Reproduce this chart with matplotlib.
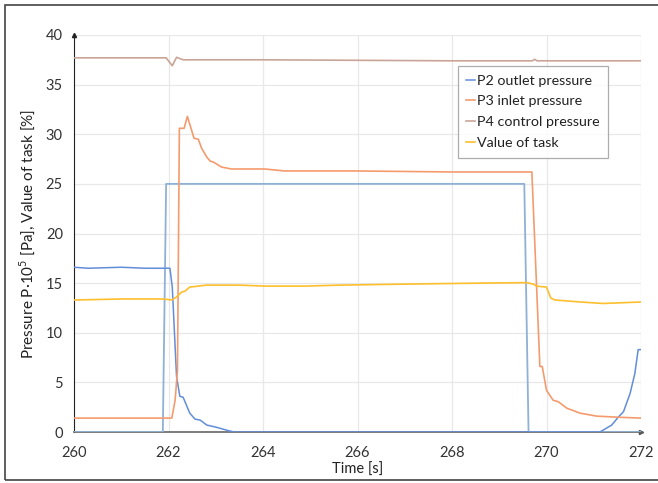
import matplotlib.pyplot as plt
from matplotlib.patches import Rectangle

# time series
p2_t = [260, 260.3, 261, 261.5, 261.95, 262.03, 262.08, 262.17, 262.24, 262.31, 262.45, 262.56,
        262.67, 262.81, 263.02, 263.27, 263.4, 271.13, 271.38, 271.52, 271.63, 271.77, 271.87,
        271.94, 272]
p2_v = [16.6, 16.5, 16.6, 16.5, 16.5, 16.5, 14.6, 5.6, 3.6, 3.5, 1.9, 1.3,
        1.2, 0.7, 0.47, 0.13, 0, 0, 0.7, 1.5, 2.05, 3.9, 5.9,
        8.3, 8.3]

step_t = [260, 261.88, 261.95, 269.53, 269.62, 272]
step_v = [0, 0, 25, 25, 0, 0]

p3_t = [260, 261, 262.07, 262.14, 262.19, 262.23, 262.33, 262.4, 262.54, 262.63, 262.7, 262.81,
        262.88, 262.95, 263.12, 263.33, 264.04, 264.46, 266, 268, 269.69, 269.86, 269.91,
        270.0, 270.14, 270.25, 270.43, 270.71, 271.06, 271.56, 272]
p3_v = [1.4, 1.4, 1.4, 3.2, 6.2, 30.6, 30.6, 31.8, 29.6, 29.5, 28.6, 27.7,
        27.3, 27.2, 26.7, 26.5, 26.5, 26.3, 26.3, 26.2, 26.2, 6.6, 6.6,
        4.2, 3.2, 3.05, 2.4, 1.9, 1.6, 1.48, 1.4]

p4_t = [260, 261.95, 262.08, 262.17, 262.31, 264, 266, 268, 269.7, 269.75, 269.8, 272]
p4_v = [37.7, 37.7, 36.9, 37.75, 37.5, 37.5, 37.45, 37.4, 37.4, 37.55, 37.4, 37.4]

task_t = [260, 261, 261.9, 262.07, 262.17, 262.28, 262.35, 262.45, 262.81, 263.5, 264.04, 264.9,
          265.63, 267, 268.59, 269.58, 269.72, 269.79, 270.0, 270.09, 270.18, 270.71, 271.2, 272]
task_v = [13.3, 13.4, 13.4, 13.3, 13.6, 14.1, 14.2, 14.6, 14.8, 14.8, 14.7, 14.7,
          14.8, 14.9, 15.0, 15.05, 14.9, 14.7, 14.6, 13.5, 13.3, 13.1, 12.95, 13.1]

plt.rcParams['font.family'] = ['Lato', 'DejaVu Sans']
plt.rcParams['mathtext.fontset'] = 'custom'
plt.rcParams['mathtext.rm'] = 'Lato'

fig = plt.figure(figsize=(6.58, 4.83), dpi=100)
ax = fig.add_axes([74 / 658, 51 / 483, 567 / 658, 397 / 483])

# outer frame of the figure
fig.patches.append(Rectangle((5 / 658, 3 / 483), 1.2, 475 / 483, transform=fig.transFigure,
                             fill=False, edgecolor='#444444', lw=1.2, zorder=0))

ax.plot(step_t, step_v, color='#8fb1d6', lw=1.3, zorder=3)
l2, = ax.plot(p2_t, p2_v, color='#628dd8', lw=1.1, zorder=4, label='P2 outlet pressure')
l3, = ax.plot(p3_t, p3_v, color='#f49b6e', lw=1.2, zorder=4, label='P3 inlet pressure')
l4, = ax.plot(p4_t, p4_v, color='#c9a497', lw=1.2, zorder=4, label='P4 control pressure')
l5, = ax.plot(task_t, task_v, color='#fdbf2d', lw=1.2, zorder=4, label='Value of task')

ax.set_xlim(260, 272)
ax.set_ylim(0, 40)
ax.set_xticks(range(260, 273, 2))
ax.set_yticks(range(0, 41, 5))
ax.grid(True, color='#e8e8e8', lw=0.9)
ax.set_axisbelow(True)
for s in ['top', 'right']:
    ax.spines[s].set_visible(False)
ax.spines['left'].set_color('#222222')
ax.spines['bottom'].set_color('#666666')
ax.spines['bottom'].set_linewidth(1.2)
ax.tick_params(axis='x', length=0, labelsize=10.5, colors='#333333', pad=10)
ax.tick_params(axis='y', length=0, labelsize=10.5, colors='#333333', pad=8)
ax.plot(1, 0, '>', transform=ax.transAxes, color='#555555', ms=3, clip_on=False)
ax.plot(0, 1, '^', transform=ax.transAxes, color='#222222', ms=3, clip_on=False)

ax.set_xlabel('Time [s]', fontsize=10.5, color='#222222', labelpad=2)
ax.set_ylabel('Pressure P·10$^5$ [Pa], Value of task [%]', fontsize=11, color='#222222', labelpad=6)

leg = ax.legend(handles=[l2, l3, l4, l5], loc='upper left', bbox_to_anchor=(0.677, 0.922),
                fontsize=10.3, frameon=True, fancybox=False, edgecolor='#999999',
                handlelength=0.6, handletextpad=0.15, labelspacing=0.62, borderpad=0.6,
                borderaxespad=0)
leg.get_frame().set_linewidth(0.9)
for t in leg.get_texts():
    t.set_color('#222222')

plt.savefig('out.png', dpi=100)
